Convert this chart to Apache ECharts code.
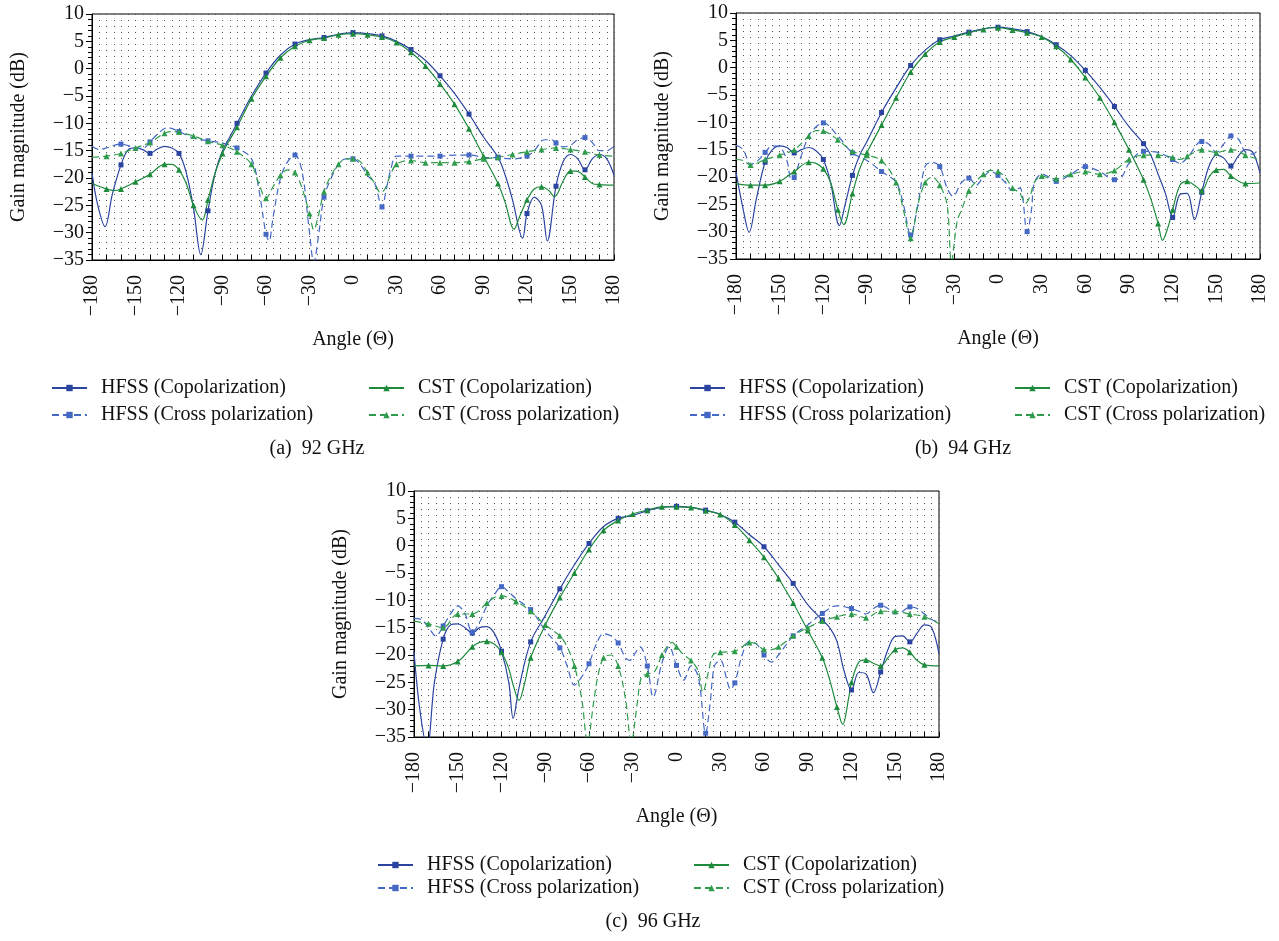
<!DOCTYPE html>
<html>
<head>
<meta charset="utf-8">
<script src="https://cdn.jsdelivr.net/npm/echarts@6/dist/echarts.min.js"></script>
<style>
  html, body { margin: 0; padding: 0; background: #fff; }
  #chart { width: 1279px; height: 941px; }
</style>
</head>
<body>
<div id="chart"></div>
<script>
// series names
const names = ["HFSS (Copolarization)", "HFSS (Cross polarization)", "CST (Copolarization)", "CST (Cross polarization)"];
const captions = ["(a)  92 GHz", "(b)  94 GHz", "(c)  96 GHz"];
const yTicks = [-35, -30, -25, -20, -15, -10, -5, 0, 5, 10];
const xTicks = [-180, -150, -120, -90, -60, -30, 0, 30, 60, 90, 120, 150, 180];

// (a) 92 GHz  [angle, dB]
const aHfssCo = [[-180,-19.1],[-176,-25],[-171,-28.9],[-166,-23],[-160,-17.6],[-155,-14.8],[-150,-14.5],[-145,-14.8],[-140,-15.5],[-135,-14.7],[-130,-14.2],[-125,-14.5],[-120,-15.5],[-115,-19],[-110,-25.5],[-105,-34],[-100,-26],[-95,-19],[-90,-15],[-85,-12.5],[-80,-10],[-70,-5],[-60,-0.8],[-50,2.5],[-40,4.5],[-30,5.3],[-20,5.7],[-10,6.3],[0,6.6],[10,6.4],[20,6.0],[30,5.0],[40,3.5],[50,1.5],[60,-1.3],[70,-4.5],[80,-8.3],[90,-12.5],[100,-16.2],[105,-19.5],[110,-24],[117,-31],[120,-26.5],[125,-23.5],[130,-25],[134,-31.5],[140,-21.5],[145,-17],[150,-15.7],[155,-16.5],[160,-18.5],[165,-16.5],[170,-15.7],[175,-16.5],[180,-19.5]];
const aCstCo = [[-180,-21],[-170,-22],[-165,-22.3],[-160,-22],[-150,-20.7],[-140,-19.3],[-130,-17.5],[-125,-17.5],[-120,-18.5],[-115,-21],[-110,-25],[-104,-27.7],[-100,-24],[-95,-19],[-90,-15.5],[-85,-13],[-80,-10.7],[-70,-5.5],[-60,-1.4],[-50,2],[-40,4.1],[-30,5.2],[-20,5.6],[-10,6.2],[0,6.4],[10,6.2],[20,5.8],[30,4.8],[40,3.0],[50,0.5],[60,-2.8],[70,-6.5],[80,-11],[90,-16],[100,-21],[105,-24.5],[111,-29.4],[115,-27],[120,-24],[125,-22],[130,-21.6],[135,-22.3],[139,-23.4],[145,-20.5],[150,-18.7],[155,-18.8],[160,-19.8],[165,-21],[170,-21.2],[180,-21.3]];
const aHfssX = [[-180,-14.2],[-175,-14.8],[-170,-14.5],[-160,-13.8],[-150,-14.5],[-145,-14.6],[-140,-13.4],[-135,-12],[-128,-10.8],[-120,-11.5],[-110,-12.7],[-100,-13.2],[-90,-13.6],[-80,-14.5],[-70,-16.5],[-65,-22],[-60,-30.3],[-58,-31.5],[-55,-27],[-50,-20],[-45,-17],[-40,-15.8],[-35,-19],[-30,-30],[-27,-35.5],[-24,-31],[-20,-23.5],[-15,-20],[-10,-17.5],[-5,-16.5],[0,-16.5],[5,-17.5],[10,-19.5],[15,-21],[20,-25.3],[23,-22],[26,-18.5],[30,-16],[40,-16],[50,-16],[60,-16],[70,-15.8],[80,-15.8],[90,-16.2],[100,-16.3],[110,-16.5],[120,-16],[125,-15],[132,-13],[137,-13],[140,-13.6],[145,-14.3],[150,-14],[155,-13],[160,-12.6],[165,-13.5],[170,-15],[175,-15],[180,-14.2]];
const aCstX = [[-180,-16.2],[-170,-16],[-160,-15.5],[-150,-14.5],[-140,-13.5],[-130,-11.8],[-125,-11.5],[-120,-11.6],[-110,-12.3],[-100,-13.3],[-90,-14],[-80,-15.2],[-70,-17.5],[-65,-21],[-60,-23.7],[-55,-21.5],[-50,-19.5],[-45,-18.5],[-40,-19],[-35,-22],[-30,-26.5],[-27,-29.5],[-24,-27],[-20,-22.5],[-15,-19.5],[-10,-17.5],[-5,-16.5],[0,-16.5],[5,-17],[10,-19],[15,-21],[19,-22.7],[22,-22],[25,-20],[30,-17.5],[40,-16.8],[50,-17.2],[60,-17.2],[70,-17.2],[80,-17],[90,-16.5],[100,-16.2],[110,-15.7],[120,-15.2],[130,-14.8],[140,-14.5],[150,-14.8],[160,-15.2],[170,-15.8],[180,-16]];

// (b) 94 GHz
const bHfssCo = [[-180,-19.1],[-175,-26],[-171,-30.1],[-166,-24],[-160,-17.3],[-155,-15],[-150,-14.3],[-145,-14.6],[-140,-15.6],[-135,-15],[-130,-14.6],[-125,-15.2],[-120,-16.8],[-115,-21],[-109,-28.9],[-105,-25],[-100,-19.7],[-95,-16],[-90,-13.5],[-80,-8.2],[-70,-3.7],[-60,0.4],[-50,3.2],[-40,5.1],[-30,5.8],[-20,6.5],[-10,7.1],[0,7.4],[10,7.1],[20,6.6],[30,5.7],[40,4.2],[50,2.2],[60,-0.5],[70,-3.6],[80,-7.1],[90,-10.8],[100,-13.9],[105,-16],[110,-19.5],[115,-23],[120,-27.4],[125,-23.2],[130,-23],[135,-27.8],[140,-22.8],[145,-18],[150,-16],[155,-16.5],[160,-18],[165,-16.2],[170,-15],[175,-15.5],[180,-19.3]];
const bCstCo = [[-180,-21.2],[-170,-21.5],[-160,-21.5],[-150,-20.8],[-140,-19],[-130,-17.3],[-125,-17.5],[-120,-18.5],[-115,-21],[-110,-26],[-106,-28.7],[-100,-23],[-95,-18.5],[-90,-15.5],[-80,-10.5],[-70,-5.5],[-60,-0.8],[-50,2.5],[-40,4.7],[-30,5.6],[-20,6.4],[-10,7.0],[-5,7.3],[0,7.3],[10,6.9],[20,6.4],[30,5.6],[40,3.9],[50,1.5],[60,-1.8],[70,-5.5],[80,-10],[90,-15],[100,-20.5],[105,-24],[110,-28.5],[113,-31.6],[117,-29],[120,-26],[125,-21.5],[130,-20.8],[135,-21.5],[140,-22.5],[145,-20],[150,-18.7],[155,-18.6],[160,-19.8],[170,-21.2],[180,-21.1]];
const bHfssX = [[-180,-14.2],[-175,-15],[-170,-17.7],[-165,-17],[-160,-15.5],[-155,-14.3],[-150,-14.5],[-145,-17],[-142,-20.5],[-140,-20.1],[-135,-16],[-130,-12.5],[-125,-10.8],[-120,-10.1],[-110,-12.5],[-100,-15.6],[-90,-17],[-80,-19],[-70,-21],[-65,-25],[-60,-30.6],[-55,-25],[-50,-18],[-45,-17.3],[-40,-18.1],[-35,-22],[-31,-23.5],[-25,-21],[-20,-20.2],[-15,-21.5],[-10,-20],[-5,-19],[0,-19.7],[5,-21],[10,-22.5],[15,-22],[20,-30],[23,-26],[25,-21],[30,-19.5],[35,-20],[40,-20.8],[50,-19.5],[60,-18.1],[70,-19],[80,-20.5],[85,-20],[90,-17.5],[100,-15.3],[110,-15.5],[120,-16.8],[125,-17.5],[130,-16.5],[140,-13.5],[145,-14],[150,-15.5],[155,-14],[160,-12.5],[165,-13],[170,-15.5],[175,-15.8],[180,-14.5]];
const bCstX = [[-180,-16.8],[-175,-17],[-170,-17.8],[-160,-16.8],[-150,-16],[-140,-15],[-130,-12.5],[-125,-11.5],[-120,-11.6],[-110,-13.2],[-100,-15.3],[-90,-16],[-80,-17],[-70,-21],[-65,-26],[-60,-31.2],[-55,-25],[-50,-21],[-45,-20],[-40,-21.5],[-35,-25],[-32,-35.5],[-28,-28],[-25,-26],[-20,-22.5],[-15,-20.8],[-10,-19.5],[-5,-18.8],[0,-19],[5,-20],[10,-22],[15,-23],[19,-24.8],[22,-23.5],[25,-21],[30,-19.8],[35,-20.2],[40,-20.3],[50,-19.5],[60,-19],[70,-19.5],[80,-18.8],[90,-16.8],[100,-16],[110,-16],[120,-16.4],[125,-16.8],[130,-16.2],[140,-15],[150,-15.5],[160,-15],[165,-15.2],[170,-16],[180,-16.8]];

// (c) 96 GHz
const cHfssCo = [[-180,-19.4],[-176,-30],[-171,-37],[-166,-25],[-160,-17.1],[-155,-14.5],[-150,-14.3],[-145,-15],[-140,-16],[-135,-15],[-130,-14.8],[-125,-16],[-120,-19.3],[-115,-25],[-112,-31.6],[-108,-26],[-100,-17.6],[-90,-12.8],[-80,-7.9],[-70,-3.5],[-60,0.4],[-50,3.5],[-40,5.0],[-30,5.5],[-20,6.4],[-10,7.0],[0,7.2],[10,7.0],[20,6.5],[30,5.7],[40,4.3],[50,2],[60,-0.2],[70,-3.5],[80,-6.9],[90,-10.8],[100,-13.6],[105,-15],[110,-17.5],[115,-23],[120,-26.4],[125,-23.2],[130,-23.5],[135,-26.9],[140,-23.1],[145,-19],[150,-16.6],[155,-16.5],[160,-17.6],[165,-16],[170,-14.5],[175,-15],[180,-19.8]];
const cCstCo = [[-180,-22],[-170,-21.9],[-160,-22],[-150,-21.2],[-140,-18.5],[-135,-17.7],[-130,-17.5],[-125,-18],[-120,-19.5],[-115,-22.5],[-112,-25.5],[-108,-28.3],[-104,-25],[-100,-20.5],[-90,-14.5],[-80,-9.5],[-70,-5],[-60,-0.7],[-50,2.8],[-40,4.6],[-30,5.8],[-20,6.5],[-10,7.1],[0,7.1],[10,7.0],[20,6.4],[30,5.7],[40,3.8],[50,1.0],[60,-2.1],[70,-6],[80,-10.5],[90,-15.5],[100,-20.5],[105,-24.5],[110,-29.5],[114,-32.7],[118,-28],[120,-25],[125,-21.3],[130,-20.9],[135,-21.5],[140,-22],[145,-20.5],[150,-19],[155,-18.7],[160,-19.5],[165,-21],[170,-21.8],[180,-22]];
const cHfssX = [[-180,-13.3],[-175,-13.5],[-170,-15],[-165,-16.5],[-160,-14.7],[-155,-12.5],[-150,-11],[-145,-12.5],[-140,-15.8],[-135,-14],[-130,-11],[-125,-9],[-120,-7.5],[-115,-8.5],[-110,-9.7],[-100,-11.7],[-90,-15.5],[-80,-18.7],[-75,-22],[-70,-25.5],[-65,-24],[-60,-21.6],[-55,-18],[-50,-16.1],[-45,-16.5],[-40,-17.8],[-35,-20.5],[-32,-21],[-28,-19.5],[-25,-18.5],[-20,-22],[-16,-27.7],[-10,-21.5],[-5,-18.5],[0,-21.9],[5,-24.6],[10,-22],[15,-24],[20,-34.3],[23,-29],[26,-22],[30,-21],[35,-25],[37,-26.3],[40,-25.1],[45,-20],[50,-17.5],[55,-18],[60,-20],[65,-21.3],[70,-20],[80,-16.5],[90,-14.5],[100,-12.4],[110,-11],[120,-11.5],[125,-12],[130,-12.5],[135,-11.5],[140,-10.9],[145,-11.5],[150,-12.5],[155,-12],[160,-11.2],[165,-11.5],[170,-12.5],[175,-13.5],[180,-14]];
const cCstX = [[-180,-13.8],[-170,-14.3],[-160,-15],[-150,-12.5],[-140,-12.5],[-130,-10.5],[-125,-9.5],[-120,-9.2],[-110,-10.2],[-100,-12],[-90,-14.5],[-80,-16.5],[-75,-18.5],[-70,-22],[-65,-28],[-61,-36],[-57,-29],[-54,-24],[-50,-20.5],[-45,-20],[-40,-22],[-35,-28],[-31,-36],[-27,-29],[-24,-24],[-20,-23.5],[-15,-23],[-10,-20],[-5,-18],[-3,-17.7],[0,-18.5],[5,-20],[10,-21],[15,-23],[18,-26.8],[22,-23],[25,-20],[30,-19.5],[40,-19.3],[45,-18.5],[50,-17.7],[55,-18],[60,-19],[65,-19],[70,-18.5],[80,-16.5],[90,-15],[100,-13.8],[110,-13],[120,-12.5],[130,-13.2],[140,-12],[150,-12],[160,-12.5],[170,-13],[180,-14.3]];

const panels = [
  [aHfssCo, aHfssX, aCstCo, aCstX],
  [bHfssCo, bHfssX, bCstCo, bCstX],
  [cHfssCo, cHfssX, cCstCo, cCstX]
];

const FONT = "Liberation Serif";
const colors = ["#2b44a0", "#4468c4", "#1d8a3c", "#2e9c4c"];
const syms = ["rect", "rect", "triangle", "triangle"];
const grids = [
  { left: 92, top: 14, width: 522, height: 246 },
  { left: 736, top: 13, width: 524, height: 246 },
  { left: 414, top: 491, width: 525, height: 246 }
];
const legendPos = [
  { top: 373, gap: 7, cols: [46, 363] },
  { top: 373, gap: 7, cols: [684, 1009] },
  { top: 850, gap: 3, cols: [372, 688] }
];
const captionPos = [[317, 449], [963, 449], [653, 922]];

const minus = v => String(v).replace("-", "\u2212");

const xAxes = [], yAxes = [], series = [], legends = [], texts = [];
grids.forEach((g, i) => {
  g.show = true;
  g.borderColor = "#000";
  g.borderWidth = 1;
  xAxes.push({
    type: "value", gridIndex: i, min: xTicks[0], max: xTicks[xTicks.length - 1], interval: 30,
    name: "Angle (\u0398)", nameLocation: "middle", nameGap: 70,
    nameTextStyle: { fontFamily: FONT, fontSize: 20, color: "#111" },
    axisLine: { onZero: false, lineStyle: { color: "#000", width: 1 } },
    axisTick: { inside: true, length: 5, lineStyle: { color: "#000" } },
    minorTick: { show: true, splitNumber: 3, length: 5, lineStyle: { color: "#000" } },
    splitLine: { show: false },
    axisLabel: { rotate: 90, margin: 15, fontFamily: FONT, fontSize: 20, color: "#111", formatter: minus }
  });
  // dotted background grid
  xAxes.push({
    type: "value", gridIndex: i, min: -180, max: 180, interval: 5,
    axisLine: { show: false }, axisTick: { show: false }, axisLabel: { show: false },
    splitLine: { show: true, lineStyle: { color: "#555", width: 1, type: [1, 5] } }
  });
  yAxes.push({
    type: "value", gridIndex: i, min: yTicks[0], max: yTicks[yTicks.length - 1], interval: 5,
    name: "Gain magnitude (dB)", nameLocation: "middle", nameGap: 63,
    nameTextStyle: { fontFamily: FONT, fontSize: 20, color: "#111" },
    axisLine: { show: true, onZero: false, lineStyle: { color: "#000", width: 1 } },
    axisTick: { show: true, length: 6, lineStyle: { color: "#000" } },
    minorTick: { show: true, splitNumber: 5, length: 4, lineStyle: { color: "#000" } },
    splitLine: { show: false },
    axisLabel: { margin: 8, fontFamily: FONT, fontSize: 20, color: "#111", formatter: minus }
  });

  panels[i].forEach((pts, k) => {
    const step = k < 2 ? 20 : 10;
    series.push({
      name: names[k], type: "line", xAxisIndex: i * 2, yAxisIndex: i,
      smooth: 0.35, showAllSymbol: true,
      symbol: syms[k], symbolSize: k < 2 ? 5 : 6,
      lineStyle: { color: colors[k], width: 1.2, type: k % 2 ? [7, 4] : "solid" },
      itemStyle: { color: colors[k] },
      emphasis: { disabled: true },
      data: pts.map(p => ({
        value: p,
        symbol: (p[0] % step === 0 && Math.abs(p[0]) < 180) ? syms[k] : "none"
      }))
    });
  });

  const lp = legendPos[i];
  [[names[0], names[1]], [names[2], names[3]]].forEach((d, c) => {
    legends.push({
      data: d, orient: "vertical", left: lp.cols[c], top: lp.top,
      itemWidth: 35, itemHeight: 8, itemGap: lp.gap,
      textStyle: { fontFamily: FONT, fontSize: 20, color: "#111", padding: [0, 0, 0, 9] }
    });
  });

  texts.push({
    type: "text", x: captionPos[i][0], y: captionPos[i][1],
    style: { text: captions[i], fill: "#111", font: "20px '" + FONT + "'", textAlign: "center", textVerticalAlign: "middle" }
  });
});

const chart = echarts.init(document.getElementById("chart"));
chart.setOption({
  animation: false,
  grid: grids,
  xAxis: xAxes,
  yAxis: yAxes,
  legend: legends,
  series: series,
  graphic: texts
});
</script>
</body>
</html>
